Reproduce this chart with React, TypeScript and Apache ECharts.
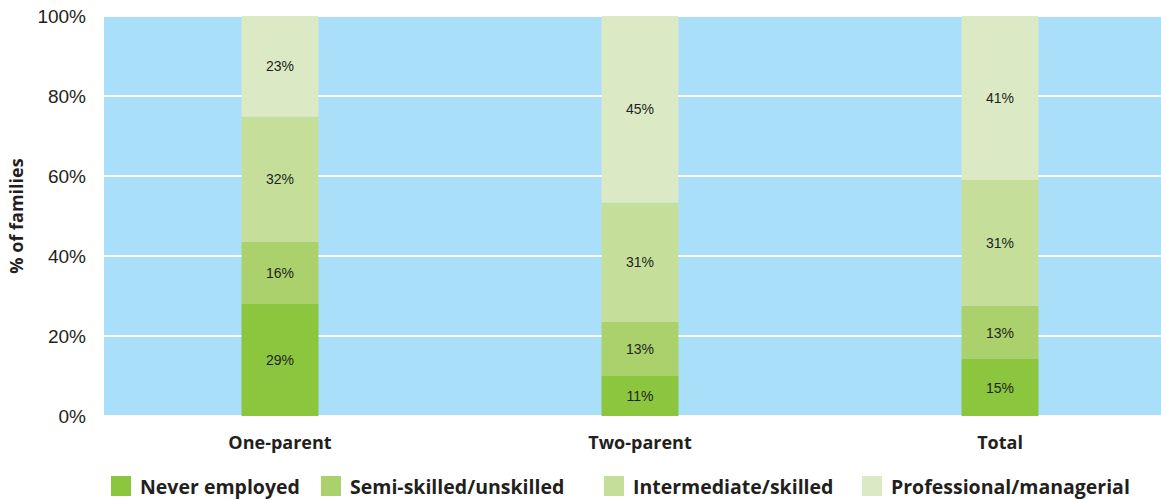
import React, { useEffect, useRef } from "react";
import * as echarts from "echarts";

const categories = ["One-parent", "Two-parent", "Total"];
const seriesNames = [
  "Never employed",
  "Semi-skilled/unskilled",
  "Intermediate/skilled",
  "Professional/managerial",
];
// drawn segment heights (percent of families)
const neverEmployed = [28, 10, 14.25];
const semiSkilled = [15.5, 13.5, 13.25];
const intermediate = [31.3, 29.8, 31.5];
const professional = [25.2, 46.7, 41];
// printed labels
const neverLabels = ["29%", "11%", "15%"];
const semiLabels = ["16%", "13%", "13%"];
const interLabels = ["32%", "31%", "31%"];
const profLabels = ["23%", "45%", "41%"];
const yTicks = ["0%", "20%", "40%", "60%", "80%", "100%"];

const colors = ["#8cc63f", "#aad16b", "#c5df9b", "#dbe9c4"];

export default function App() {
  const ref = useRef<HTMLDivElement>(null);
  useEffect(() => {
    const chart = echarts.init(ref.current!, null, { renderer: "svg" });
    const values = [neverEmployed, semiSkilled, intermediate, professional];
    const labels = [neverLabels, semiLabels, interLabels, profLabels];
    const legendLefts = [111, 321, 604, 862];
    chart.setOption({
      animation: false,
      grid: [
        {
          left: 104,
          right: 0,
          top: 16,
          bottom: 84,
          show: true,
          backgroundColor: "#aadff9",
          borderWidth: 0,
          outerBoundsMode: "none",
        },
        { left: 100, width: 1080, top: 16, bottom: 84, outerBoundsMode: "none" },
      ],
      legend: seriesNames.map((n, i) => ({
        data: [n],
        left: legendLefts[i],
        top: 476,
        padding: 0,
        itemWidth: 20,
        itemHeight: 20,
        icon: "rect",
        textStyle: {
          fontFamily: "Open Sans",
          fontWeight: "bold",
          fontSize: 19.5,
          color: "#231f20",
          padding: [0, 0, 0, 4],
        },
      })),
      xAxis: [
        { type: "value", gridIndex: 0, show: false, min: 0, max: 1 },
        {
          type: "category",
          gridIndex: 1,
          data: categories,
          axisLine: { show: false },
          axisTick: { show: false },
          axisLabel: {
            margin: 17,
            fontFamily: "Open Sans",
            fontWeight: "bold",
            fontSize: 18,
            color: "#231f20",
          },
        },
      ],
      yAxis: [
        {
          type: "value",
          gridIndex: 0,
          min: 0,
          max: 100,
          interval: 20,
          name: "% of families",
          nameLocation: "middle",
          nameGap: 79,
          nameTextStyle: {
            fontFamily: "Open Sans",
            fontWeight: "bold",
            fontSize: 18,
            color: "#231f20",
          },
          axisLine: { show: false },
          axisTick: { show: false },
          axisLabel: {
            margin: 18,
            fontFamily: "Liberation Sans",
            fontSize: 19,
            color: "#231f20",
            formatter: (v: number) => yTicks[Math.round(v / 20)],
          },
          splitLine: { show: true, lineStyle: { color: "#ffffff", width: 2 } },
        },
        {
          type: "value",
          gridIndex: 1,
          min: 0,
          max: 100,
          show: false,
          splitLine: { show: false },
        },
      ],
      series: seriesNames.map((n, i) => ({
        name: n,
        type: "bar",
        stack: "total",
        xAxisIndex: 1,
        yAxisIndex: 1,
        barWidth: 77,
        itemStyle: { color: colors[i] },
        label: {
          show: true,
          position: "inside",
          fontFamily: "Liberation Sans",
          fontSize: 14,
          color: "#231f20",
          formatter: (p: any) => labels[i][p.dataIndex],
        },
        data: values[i],
      })),
    });
    return () => chart.dispose();
  }, []);
  return (
    <div
      ref={ref}
      style={{ position: "fixed", left: 0, top: 0, width: 1161, height: 500, background: "#fff" }}
    />
  );
}
